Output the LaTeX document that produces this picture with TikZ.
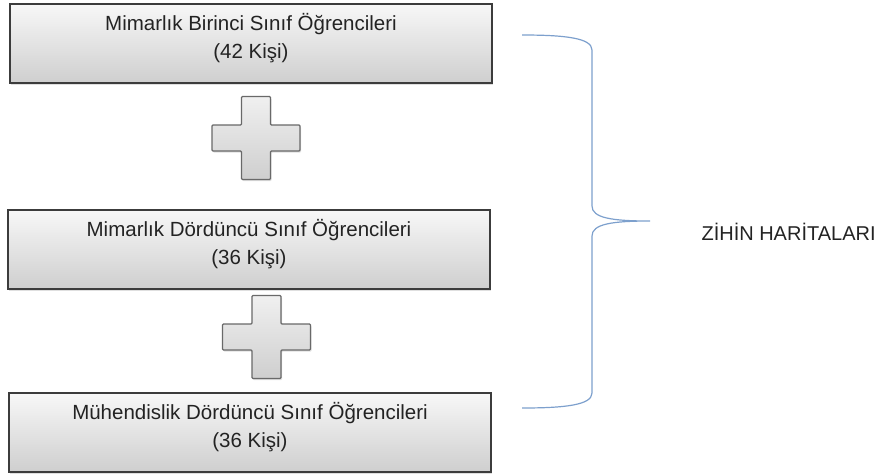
\documentclass[tikz,border=0pt]{standalone}
\usepackage{fontspec}
\setmainfont{Liberation Sans}
\usetikzlibrary{shadows}
\definecolor{boxborder}{RGB}{60,60,60}
\definecolor{plusborder}{RGB}{105,105,105}
\definecolor{bracecolor}{RGB}{125,160,205}
\definecolor{textgray}{RGB}{35,35,35}

\begin{document}
\begin{tikzpicture}[x=1pt, y=1pt,
    groupbox/.style={rectangle, draw=boxborder, line width=1.1pt, inner sep=0pt,
        top color=gray!6, bottom color=gray!38, text=textgray,
        minimum width=482pt, minimum height=79pt, align=center, text depth=15pt,
        font=\fontsize{20.5}{28.5}\selectfont,
        drop shadow={shadow xshift=1pt, shadow yshift=-2pt, opacity=0.25}},
    plusmark/.style={draw=plusborder, line width=1.1pt, rounded corners=1pt,
        top color=gray!12, bottom color=gray!38,
        drop shadow={shadow xshift=1pt, shadow yshift=-1.5pt, opacity=0.25}},
    curly/.style={draw=bracecolor, line width=1.2pt}
]
    \useasboundingbox (0,0) rectangle (887,-475);

    \node[groupbox] (box1) at (251,-43.5) {Mimarlık Birinci Sınıf Öğrencileri\\(42 Kişi)};
    \node[groupbox] (box2) at (249,-249.5) {Mimarlık Dördüncü Sınıf Öğrencileri\\(36 Kişi)};
    \node[groupbox] (box3) at (250,-432.5) {Mühendislik Dördüncü Sınıf Öğrencileri\\(36 Kişi)};

    % plus signs between the groups
    \foreach \name/\px/\py in {plus1/256/-138, plus2/266.5/-337} {
        \coordinate (\name) at (\px,\py);
        \path[plusmark, shift={(\name)}] (-14.5,41.5) -- (14.5,41.5) -- (14.5,13) -- (44,13)
            -- (44,-13) -- (14.5,-13) -- (14.5,-41.5) -- (-14.5,-41.5) -- (-14.5,-13)
            -- (-44,-13) -- (-44,13) -- (-14.5,13) -- cycle;
    }

    % brace
    \coordinate (bracetop) at (522,-35);
    \coordinate (bracebot) at (522,-408);
    \coordinate (bracetip) at (650,-221);
    \draw[curly] (bracetop) .. controls (565,-35) and (592,-38) .. (592,-50) -- (592,-206)
        .. controls (592,-218) and (612,-221) .. (bracetip)
        .. controls (612,-221) and (592,-224) .. (592,-236) -- (592,-393)
        .. controls (592,-405) and (565,-408) .. (bracebot);

    \node[text=textgray, font=\fontsize{20}{24}\selectfont, anchor=west] (maps) at (698,-232) {ZİHİN HARİTALARI};
\end{tikzpicture}
\end{document}
